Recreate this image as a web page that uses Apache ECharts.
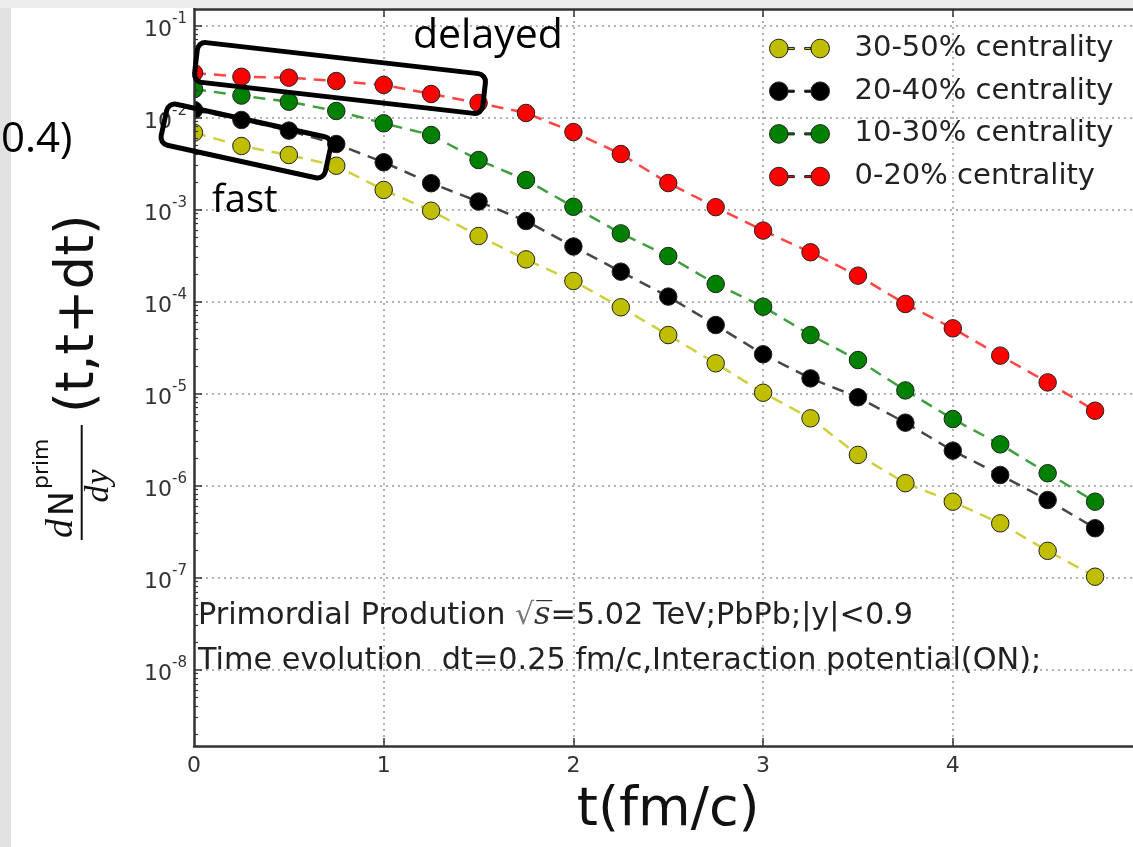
<!DOCTYPE html>
<html><head><meta charset="utf-8">
<script src="https://cdn.jsdelivr.net/npm/echarts@6/dist/echarts.min.js"></script>
<style>html,body{margin:0;padding:0;background:#fff}#c{width:1133px;height:847px}</style>
</head><body><div id="c"></div>
<script>
// ---------- data ----------
const times = [0, 0.25, 0.5, 0.75, 1, 1.25, 1.5, 1.75, 2, 2.25, 2.5, 2.75, 3, 3.25, 3.5, 3.75, 4, 4.25, 4.5, 4.75];
const cent3050 = [6.84e-3, 4.9e-3, 3.91e-3, 2.99e-3, 1.63e-3, 9.7e-4, 5.15e-4, 2.87e-4, 1.67e-4, 8.65e-5, 4.32e-5, 2.13e-5, 1.02e-5, 5.37e-6, 2.15e-6, 1.06e-6, 6.67e-7, 3.88e-7, 1.95e-7, 1.02e-7];
const cent2040 = [1.208e-2, 9.4e-3, 7.2e-3, 5.15e-3, 3.26e-3, 1.93e-3, 1.22e-3, 7.5e-4, 3.96e-4, 2.11e-4, 1.13e-4, 5.55e-5, 2.67e-5, 1.46e-5, 9.1e-6, 4.82e-6, 2.39e-6, 1.30e-6, 6.95e-7, 3.43e-7];
const cent1030 = [2.03e-2, 1.73e-2, 1.485e-2, 1.177e-2, 8.65e-3, 6.45e-3, 3.45e-3, 2.09e-3, 1.07e-3, 5.5e-4, 3.12e-4, 1.55e-4, 8.78e-5, 4.32e-5, 2.31e-5, 1.08e-5, 5.28e-6, 2.8e-6, 1.36e-6, 6.67e-7];
const cent0020 = [3.05e-2, 2.77e-2, 2.71e-2, 2.49e-2, 2.26e-2, 1.80e-2, 1.44e-2, 1.12e-2, 6.95e-3, 4.01e-3, 1.94e-3, 1.06e-3, 5.9e-4, 3.43e-4, 1.91e-4, 9.4e-5, 5.11e-5, 2.58e-5, 1.32e-5, 6.5e-6];
const seriesNames = ['30-50% centrality', '20-40% centrality', '10-30% centrality', '0-20% centrality'];
const xTickLabels = [0, 1, 2, 3, 4];
const yMajorTicks = [1e-8, 1e-7, 1e-6, 1e-5, 1e-4, 1e-3, 1e-2, 1e-1];
const yMinorTicks = [];
for (let e = -9; e <= -1; e++) for (let m = 2; m <= 9; m++) yMinorTicks.push(m * Math.pow(10, e));
const yMin = 1.474e-9, yMax = 0.1511;
const xMin = 0, xMax = 5;

// ---------- styling ----------
const markerColors = ['#bfbf00', '#000000', '#008000', '#ff0000'];
const lineColors = ['#cfcf40', '#474747', '#3f9f3f', '#ff4545'];
const valueSets = [cent3050, cent2040, cent1030, cent0020];
const FONT = 'DejaVu Sans';
const SLIDE = 'Open Sans';
const legendIcon = 'path://M1,10 a9,9 0 1,0 18,0 a9,9 0 1,0 -18,0 Z M41,10 a9,9 0 1,0 18,0 a9,9 0 1,0 -18,0 Z M19,9 h6 v2 h-6 Z M35,9 h6 v2 h-6 Z';

const series = valueSets.map((vals, i) => ({
  name: seriesNames[i],
  type: 'line',
  xAxisIndex: 0, yAxisIndex: 0,
  data: times.map((t, k) => [t, vals[k]]),
  symbol: 'circle', symbolSize: 17.5,
  itemStyle: { color: markerColors[i], borderColor: '#222', borderWidth: 1 },
  lineStyle: { color: lineColors[i], width: 2.5, type: [12, 8] },
  emphasis: { disabled: true },
  animation: false,
  z: 2
}));

const gridLine = { show: true, lineStyle: { color: '#999', width: 1.5, type: [2, 4] } };
const axisLineStyle = { color: '#333', width: 2.5 };

const option = {
  backgroundColor: '#ffffff',
  animation: false,
  grid: { left: 194, top: 9, width: 948.5, height: 737, containLabel: false, outerBoundsMode: 'none' },
  xAxis: [
    { type: 'value', min: xMin, max: xMax, interval: 1, position: 'bottom',
      axisLine: { show: true, lineStyle: axisLineStyle },
      axisTick: { show: true, inside: true, length: 8, lineStyle: { color: '#333', width: 1.5 } },
      axisLabel: { fontSize: 22, color: '#333', margin: 9, fontFamily: FONT, showMaxLabel: false,
        formatter: v => xTickLabels.indexOf(v) >= 0 ? String(v) : '' },
      splitLine: gridLine,
      name: 't(fm/c)', nameLocation: 'middle', nameGap: 38,
      nameTextStyle: { fontSize: 54, color: '#111', fontFamily: FONT } },
    { type: 'value', min: xMin, max: xMax, interval: 1, position: 'top',
      axisLine: { show: true, lineStyle: axisLineStyle },
      axisTick: { show: true, inside: true, length: 8, lineStyle: { color: '#333', width: 1.5 } },
      axisLabel: { show: false }, splitLine: { show: false } }
  ],
  yAxis: [
    { type: 'log', min: yMin, max: yMax, position: 'left', z: 0,
      axisLine: { show: false }, axisTick: { show: false, customValues: yMajorTicks },
      axisLabel: { show: false, customValues: yMajorTicks },
      splitLine: gridLine },
    { type: 'log', min: yMin, max: yMax, position: 'left', z: 5,
      axisLine: { show: true, lineStyle: axisLineStyle },
      axisTick: { show: true, inside: true, length: 8, customValues: yMajorTicks, lineStyle: { color: '#333', width: 1.5 } },
      axisLabel: { show: true, customValues: yMajorTicks, margin: 7,
        formatter: v => '{b|10}{s|' + Math.round(Math.log10(v)) + '}',
        rich: {
          b: { fontSize: 22, color: '#333', fontFamily: FONT, padding: [10, 0, 0, 0] },
          s: { fontSize: 15, color: '#333', fontFamily: FONT, padding: [0, 0, 12, 0] }
        } },
      splitLine: { show: false } },
    { type: 'log', min: yMin, max: yMax, position: 'left', z: 5,
      axisLine: { show: false },
      axisTick: { show: true, inside: true, length: 4, customValues: yMinorTicks, lineStyle: { color: '#333', width: 1.2 } },
      axisLabel: { show: false }, splitLine: { show: false } }
  ],
  legend: {
    orient: 'vertical', left: 769, top: 34, padding: 0,
    itemWidth: 60, itemHeight: 20, itemGap: 13.7,
    icon: legendIcon,
    itemStyle: { borderColor: '#222', borderWidth: 1 },
    textStyle: { fontSize: 29, color: '#222', fontFamily: FONT, padding: [0, 0, 0, 20], lineHeight: 29 },
    data: seriesNames
  },
  series: series,
  graphic: [
    // slide border strips
    { type: 'rect', z: 20, shape: { x: 0, y: 0, width: 11, height: 847 }, style: { fill: '#e2e2e2' } },
    { type: 'rect', z: 20, shape: { x: 0, y: 0, width: 1133, height: 8 }, style: { fill: '#ededed' } },
    // mask that clips the left half of markers on the y axis
    { type: 'rect', z: 3, shape: { x: 11, y: 9, width: 183, height: 737 }, style: { fill: '#ffffff' } },
    // y axis title (rotated)
    { type: 'group', x: 81.7, y: 540, rotation: Math.PI / 2, z: 10, children: [
      { type: 'line', z: 10, shape: { x1: 0, y1: 0, x2: 115, y2: 0 }, style: { stroke: '#111', lineWidth: 2 } },
      { type: 'text', z: 10, style: { text: 'd', x: 2, y: -1, fontSize: 38, fontStyle: 'italic', fontFamily: 'Liberation Serif', fill: '#111', align: 'left', verticalAlign: 'bottom' } },
      { type: 'text', z: 10, style: { text: 'N', x: 24, y: -1, fontSize: 33, fontFamily: FONT, fill: '#111', align: 'left', verticalAlign: 'bottom' } },
      { type: 'text', z: 10, style: { text: 'prim', x: 51, y: -28, fontSize: 22, fontFamily: FONT, fill: '#111', align: 'left', verticalAlign: 'bottom' } },
      { type: 'text', z: 10, style: { text: 'd', x: 46, y: 0, fontSize: 34, fontStyle: 'italic', fontFamily: 'Liberation Serif', fill: '#111', align: 'center', verticalAlign: 'top' } },
      { type: 'text', z: 10, style: { text: 'y', x: 63, y: 0, fontSize: 34, fontStyle: 'italic', fontFamily: 'Liberation Serif', fill: '#111', align: 'center', verticalAlign: 'top' } },
      { type: 'text', z: 10, style: { text: '(t,t+dt)', x: 127, y: -2, fontSize: 53, fontFamily: FONT, fill: '#111', align: 'left', verticalAlign: 'middle' } }
    ] },
    // in-plot annotations
    { type: 'text', z: 10, style: { text: 'Primordial Prodution {sq|√}{s|s\u0305}=5.02 TeV;PbPb;|y|<0.9', x: 198, y: 616, fontSize: 30.3, fontFamily: FONT, fill: '#222', align: 'left', verticalAlign: 'middle',
      rich: { sq: { fontSize: 30, fontFamily: FONT, fill: '#777' }, s: { fontSize: 32, fontStyle: 'italic', fontFamily: 'DejaVu Serif', fill: '#333' } } } },
    { type: 'text', z: 10, style: { text: 'Time evolution  dt=0.25 fm/c,Interaction potential(ON);', x: 198, y: 661, fontSize: 30.3, fontFamily: FONT, fill: '#222', align: 'left', verticalAlign: 'middle' } },
    // slide annotations
    { type: 'text', z: 21, style: { text: '0.4)', x: 1, y: 140, fontSize: 42, fontFamily: SLIDE, fill: '#000', align: 'left', verticalAlign: 'middle' } },
    { type: 'text', z: 10, style: { text: 'delayed', x: 413, y: 36, fontSize: 41, fontFamily: SLIDE, fill: '#000', align: 'left', verticalAlign: 'middle' } },
    { type: 'text', z: 10, style: { text: 'fast', x: 212, y: 201, fontSize: 38, fontFamily: SLIDE, fill: '#000', align: 'left', verticalAlign: 'middle' } },
    { type: 'rect', z: 10, x: 340, y: 78, rotation: -0.1134, shape: { x: -145, y: -20, width: 290, height: 40, r: 8 }, style: { fill: null, stroke: '#000', lineWidth: 5 } },
    { type: 'rect', z: 10, x: 246, y: 141, rotation: -0.216, shape: { x: -84, y: -21, width: 168, height: 42, r: 8 }, style: { fill: null, stroke: '#000', lineWidth: 5 } }
  ]
};

const chart = echarts.init(document.getElementById('c'), null, { renderer: 'canvas' });
chart.setOption(option);
</script>
</body></html>
